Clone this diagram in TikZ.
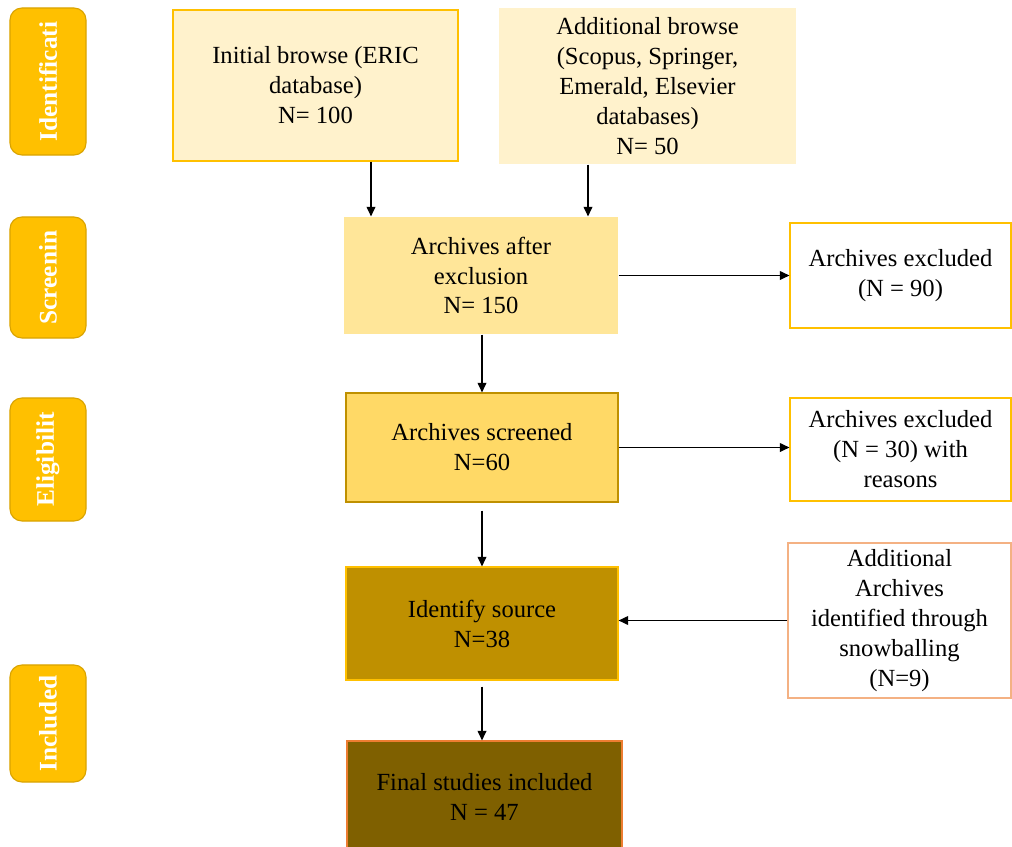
\documentclass[tikz,border=0pt]{standalone}
\usepackage{fontspec}
\setmainfont{Liberation Serif}
\usetikzlibrary{arrows.meta}

\definecolor{paleGold}{HTML}{FFF2CC}
\definecolor{lightGold}{HTML}{FFE699}
\definecolor{midGold}{HTML}{FFD966}
\definecolor{darkGold}{HTML}{BF9000}
\definecolor{brownGold}{HTML}{7F6000}
\definecolor{amber}{HTML}{FFC000}
\definecolor{amberEdge}{HTML}{D9A300}
\definecolor{peach}{HTML}{F4B183}
\definecolor{rust}{HTML}{ED7D31}

\tikzset{
    box/.style={rectangle, inner sep=0pt, align=center, line width=0.8pt,
        font=\fontsize{17.5}{21.3}\selectfont},
    phase/.style={rectangle, rounded corners=0.3cm, fill=amber, draw=amberEdge,
        line width=0.8pt, rotate=90, minimum height=1.9cm, inner sep=0pt,
        text=white, font=\fontsize{18}{21}\selectfont\bfseries},
    flow/.style={-{Triangle[length=0.24cm, width=0.22cm]}, line width=0.9pt}
}

\begin{document}
\begin{tikzpicture}[x=0.025cm, y=-0.025cm]
    \useasboundingbox (0,0) rectangle (1012,847);

    % phases on the left
    \node[phase, minimum width=3.675cm] (idphase) at (48,81.5) {Identificati};
    \node[phase, minimum width=3.025cm] (scphase) at (48,277.5) {Screenin};
    \node[phase, minimum width=3.075cm] (elphase) at (48,459.5) {Eligibilit};
    \node[phase, minimum width=2.925cm] (inphase) at (48,723.5) {Included};

    % identification
    \node[box, fill=paleGold, draw=amber, minimum width=7.125cm, minimum height=3.775cm] (init) at (315.5,85.5)
        {Initial browse (ERIC\\database)\\N= 100};
    \node[box, fill=paleGold, minimum width=7.425cm, minimum height=3.9cm] (addl) at (647.5,86)
        {Additional browse\\(Scopus, Springer,\\Emerald, Elsevier\\databases)\\N= 50};

    % screening
    \node[box, fill=lightGold, minimum width=6.85cm, minimum height=2.925cm] (after) at (481,275.5)
        {Archives after\\exclusion\\N= 150};
    \node[box, fill=white, draw=amber, minimum width=5.525cm, minimum height=2.625cm] (exclA) at (900.5,275.5)
        {Archives excluded\\(N = 90)};

    % eligibility
    \node[box, fill=midGold, draw=darkGold, minimum width=6.8cm, minimum height=2.725cm] (screened) at (482,447.5)
        {Archives screened\\N=60};
    \node[box, fill=white, draw=amber, minimum width=5.525cm, minimum height=2.575cm] (exclB) at (900.5,449.5)
        {Archives excluded\\(N = 30) with\\reasons};

    \node[box, fill=darkGold, draw=amber, minimum width=6.8cm, minimum height=2.825cm] (source) at (482,623.5)
        {Identify source\\N=38};
    \node[box, fill=white, draw=peach, minimum width=5.575cm, minimum height=3.875cm] (snow) at (899.5,620.5)
        {Additional\\Archives\\identified through\\snowballing\\(N=9)};

    % included
    \node[box, fill=brownGold, draw=rust, minimum width=6.875cm, minimum height=2.8cm] (final) at (484.5,797)
        {Final studies included\\N = 47};

    % arrows
    \draw[flow] (init.south -| 371,0) -- (after.north -| 371,0);
    \draw[flow] (addl.south -| 588,0) -- (after.north -| 588,0);
    \draw[flow] (after.east) -- (exclA.west);
    \draw[flow] (screened.north |- after.south) -- (screened.north);
    \draw[flow] (screened.east) -- (screened.east -| exclB.west);
    \draw[flow, shorten <=0.2cm] (screened.south) -- (source.north);
    \draw[flow] (snow.west) -- (snow.west -| source.east);
    \draw[flow, shorten <=0.15cm] (source.south) -- (source.south |- final.north);
\end{tikzpicture}
\end{document}
